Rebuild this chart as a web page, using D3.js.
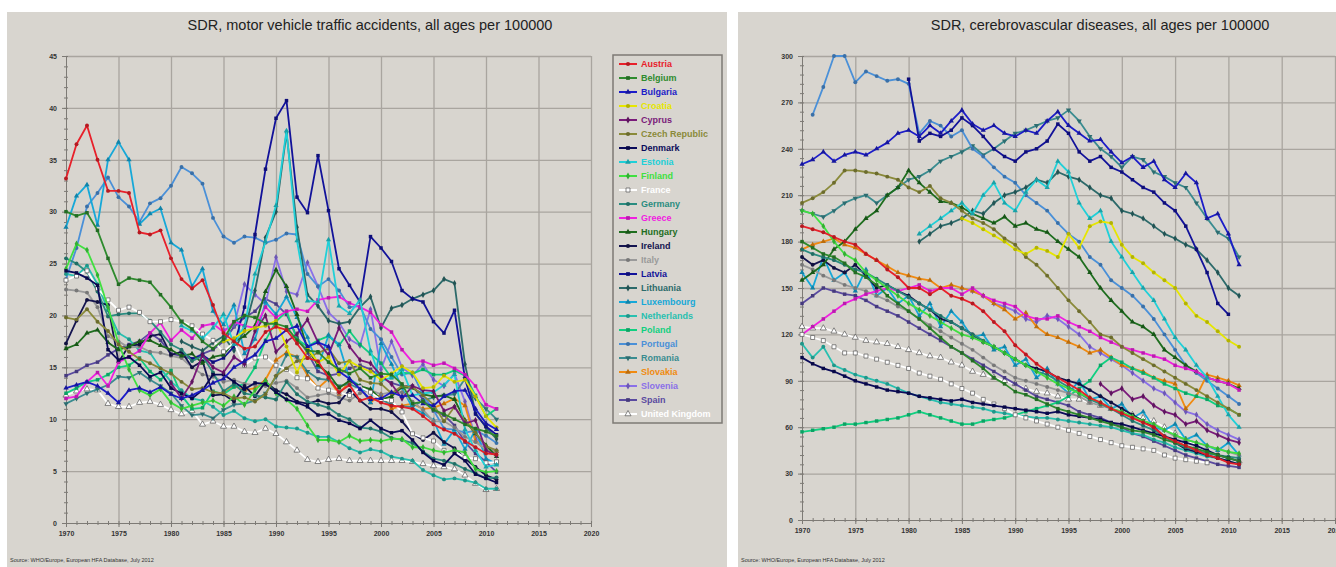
<!DOCTYPE html>
<html>
<head>
<meta charset="utf-8">
<script src="https://cdn.jsdelivr.net/npm/d3@7"></script>
<style>
body { margin: 0; background: #fff; }
svg { display: block; font-family: "Liberation Sans", Arial, sans-serif; }
.grid line { stroke: #a9a59f; stroke-width: 1.3; }
.grid path { display: none; }
.axis path, .axis line { stroke: #7d7a75; }
.axis text { font-size: 7px; font-weight: bold; fill: #333; }
</style>
</head>
<body>
<svg id="chart" width="1336" height="567"></svg>
<script>
const countries = ['Austria', 'Belgium', 'Bulgaria', 'Croatia', 'Cyprus', 'Czech Republic', 'Denmark',
  'Estonia', 'Finland', 'France', 'Germany', 'Greece', 'Hungary', 'Ireland', 'Italy', 'Latvia',
  'Lithuania', 'Luxembourg', 'Netherlands', 'Poland', 'Portugal', 'Romania', 'Slovakia', 'Slovenia',
  'Spain', 'United Kingdom']

const colors = ['#e8202a', '#2e8b2e', '#1c1cc8', '#e6e600', '#7a1a7a', '#8a8a3a', '#0a0a5a',
  '#20d0d8', '#40e040', '#ffffff', '#2a8c80', '#f020e0', '#1e6e1e', '#141450', '#9a9a9a', '#12129a',
  '#2c6a6a', '#16a8d8', '#28c0b0', '#10d080', '#4a90d8', '#3a8c90', '#f08a10', '#8a70e8',
  '#5a4aa0', '#ffffff']

const markers = ['circle', 'square', 'triangle', 'circle', 'diamond', 'circle', 'square',
  'triangle', 'diamond', 'square', 'circle', 'square', 'triangle', 'circle', 'circle', 'square',
  'diamond', 'triangle', 'circle', 'square', 'circle', 'down', 'triangle', 'diamond', 'square', 'triangle']

const hollow = ['France', 'United Kingdom']

const xTicks = [1970, 1975, 1980, 1985, 1990, 1995, 2000, 2005, 2010, 2015, 2020]

// motor vehicle traffic accidents, first year of each series
const trafficStart = [1970, 1970, 1970, 1985, 1980, 1970, 1970, 1981, 1970, 1970, 1970, 1970, 1970,
  1970, 1970, 1981, 1981, 1970, 1970, 1970, 1970, 1970, 1985, 1985, 1970, 1970]

const traffic = [
  [33.2,36.5,38.3,35.0,32.0,32.0,31.8,28.0,27.8,28.2, 25.5,23.5,22.6,23.4,21.0,18.3,17.5,16.8,17.0,18.4, 18.9,18.6,17.3,15.9,15.6,14.0,12.6,13.3,11.8,12.1, 11.6,11.3,11.2,11.0,10.3,9.5,9.0,8.6,7.9,7.3, 6.7,6.6],
  [30.0,29.6,29.9,28.2,25.5,23.0,23.6,23.4,23.2,22.0, 20.8,19.4,18.7,17.5,16.8,17.7,19.4,20.0,19.8,19.2, 19.2,18.9,17.6,16.6,16.5,15.5,14.8,14.4,14.9,14.0, 14.4,14.3,13.4,11.5,11.7,10.9,10.5,10.0,9.5,9.1, 8.8,8.4],
  [13.0,13.3,13.6,13.2,12.5,11.6,12.8,13.0,12.6,13.1, 12.4,12.0,12.3,12.8,13.5,13.9,15.0,15.6,16.2,17.5, 17.8,18.6,19.0,17.0,17.4,17.0,14.6,13.9,12.9,11.9, 12.0,12.6,12.2,12.3,11.5,11.3,12.2,12.7,12.8,11.0, 9.6,9.0],
  [17.5,17.8,18.5,18.8,19.0, 19.5,17.0,14.5,16.8,15.5,16.0,14.3,15.6,15.0,14.6, 13.8,14.4,15.1,14.5,13.0,13.1,14.2,13.6,13.8,12.2, 10.3,9.2],
  [13.5,12.0,13.6,16.2,15.0,14.5,16.0,15.3,18.5,20.0, 16.5,17.5,18.2,19.6,17.4,16.2,18.8,17.0,15.7,15.4, 14.2,13.4,12.0,13.2,12.8,12.7,10.8,11.2,9.6,9.9, 7.0,6.5],
  [19.8,19.6,20.6,19.4,18.5,17.2,16.5,15.8,15.4,14.9, 14.4,13.6,12.9,13.0,12.6,12.5,12.0,12.1,11.7,12.4, 14.2,14.9,15.6,15.9,16.4,16.8,15.4,15.6,13.8,13.5, 13.4,12.5,13.2,13.1,12.3,11.4,9.8,11.2,9.8,8.7, 7.4,7.0],
  [24.3,24.1,23.6,22.9,16.7,15.7,16.0,15.2,14.1,14.5, 13.0,12.5,12.0,12.8,14.3,14.3,13.6,12.9,13.5,13.4, 12.6,11.9,11.6,11.2,10.4,10.5,9.9,9.6,9.1,9.9, 9.1,8.7,8.9,8.0,6.8,6.0,5.6,6.7,6.0,4.7, 4.3,3.9],
  [19.0,18.5,17.8,18.8,20.1,17.2,19.0,24.0,27.1, 30.6,37.8,27.2,21.4,21.3,27.3,20.9,20.2,21.5,16.6, 13.7,14.0,14.8,12.3,12.5,12.6,13.3,14.3,9.0,7.0, 5.4,5.6],
  [24.5,26.9,26.3,23.9,20.8,17.3,14.8,12.8,12.3,12.9, 11.6,11.0,11.3,11.6,11.8,11.3,12.2,11.4,12.8,13.7, 12.5,11.9,11.0,9.4,8.0,8.0,7.8,8.4,7.9,8.0, 7.9,8.1,8.1,7.3,7.3,7.0,6.8,7.0,6.8,5.2, 4.9,5.0],
  [23.4,23.8,24.3,22.6,21.5,20.5,20.8,20.3,19.4,19.4, 19.6,19.4,19.0,18.2,17.6,16.5,17.4,15.2,15.9,16.0, 15.2,14.8,14.0,13.9,13.0,12.8,12.6,12.3,13.1,12.6, 11.9,11.8,10.7,8.6,8.2,7.9,7.0,6.9,6.3,6.2, 5.8,5.9],
  [25.5,25.0,24.2,22.3,19.9,20.1,20.2,20.2,19.5,18.4, 17.2,16.7,15.6,16.1,14.5,12.7,13.4,12.5,12.3,12.1, 11.9,13.6,12.4,11.7,11.4,11.1,10.4,10.0,9.2,9.1, 8.8,8.2,8.0,7.7,6.9,6.2,6.0,5.7,5.2,4.8, 4.3,4.4],
  [12.0,12.2,13.6,14.5,13.2,15.5,16.0,16.6,18.3,19.3, 17.6,18.6,17.8,19.0,19.2,18.4,19.4,19.0,18.8,20.8, 19.8,20.4,20.6,20.4,21.5,21.7,21.8,21.2,20.8,20.3, 19.1,18.4,16.7,15.5,15.6,15.2,15.4,14.9,14.3,13.2, 11.4,11.0],
  [16.8,17.2,18.3,18.6,17.4,16.7,17.0,17.5,17.6,17.1, 16.7,16.1,16.3,15.4,16.0,16.2,17.5,18.0,19.0,22.3, 24.4,22.8,20.1,16.8,15.2,14.4,13.0,13.7,13.2,12.9, 11.9,12.2,13.1,13.0,12.4,12.2,12.3,11.9,9.9,8.6, 7.5,6.4],
  [17.3,19.5,21.5,21.3,21.0,15.5,17.1,17.2,18.0,18.2, 16.2,16.5,15.0,15.6,12.3,12.4,11.7,13.2,12.2,13.6, 12.8,12.4,11.7,11.5,11.8,11.5,11.6,12.8,11.8,11.0, 11.0,10.7,9.8,8.6,8.0,8.7,7.8,7.2,6.2,5.4, 4.6,4.2],
  [22.5,22.4,22.2,20.8,18.0,17.5,16.9,17.0,16.5,16.4, 16.1,15.9,15.0,14.3,14.1,13.6,13.8,13.4,13.3,13.2, 13.5,13.7,13.0,12.1,12.3,12.5,12.1,11.8,12.5,12.8, 12.4,12.6,12.6,11.7,10.9,9.8,9.8,9.2,8.3,7.8, 7.1,6.9],
  [16.5,15.8,16.2,15.5,15.9,17.0,20.8,27.8,34.1, 39.0,40.7,31.4,29.9,35.4,30.1,24.5,22.9,21.3,27.6, 26.5,25.2,22.4,21.6,21.3,19.4,18.3,20.5,13.9,10.5, 9.3,8.5],
  [17.5,17.0,16.6,17.4,18.0,16.6,18.6,22.4,27.5, 30.0,37.6,28.5,22.0,20.9,19.5,19.2,19.4,20.8,21.8, 18.8,20.7,21.0,21.6,22.0,22.4,23.5,23.1,15.3,10.6, 9.2,8.1],
  [28.5,31.5,32.6,28.7,35.0,36.7,35.0,28.8,29.8,30.3, 27.0,26.3,22.8,24.5,20.4,19.1,21.0,16.3,17.7,21.3, 20.1,21.8,19.8,17.9,15.0,18.1,17.2,13.9,13.2,11.6, 17.3,15.3,13.0,11.1,10.6,9.9,7.6,9.0,7.1,9.0, 6.2,5.7],
  [24.0,23.8,24.8,23.0,20.5,18.3,17.7,16.6,16.4,14.9, 13.6,12.8,12.0,11.8,11.2,10.4,10.8,10.1,9.8,10.0, 9.3,9.2,9.1,8.7,8.3,8.3,7.8,7.2,6.8,7.1, 6.9,6.4,6.2,6.0,5.1,4.6,4.2,4.3,4.1,3.9, 3.3,3.3],
  [12.5,13.0,13.6,13.8,14.3,15.0,15.2,15.9,14.6,13.8, 14.7,12.3,11.0,11.1,12.7,12.4,13.1,13.4,15.0,17.6, 19.4,20.4,17.7,17.0,17.6,18.0,17.1,18.5,17.2,16.3, 15.4,14.0,14.5,14.4,14.8,14.3,14.3,14.7,14.2,12.3, 10.3,11.0],
  [23.5,26.5,30.5,31.8,33.3,31.4,30.5,29.0,30.8,31.3, 32.5,34.3,33.7,32.7,29.4,27.6,27.0,27.6,27.5,27.0, 27.3,27.9,27.8,24.0,22.8,23.5,22.4,20.8,20.9,18.7, 17.7,16.0,14.3,14.5,12.3,10.9,9.1,9.0,8.7,8.9, 8.4,7.7],
  [11.5,12.0,12.5,12.9,13.3,14.1,14.0,14.5,13.8,13.2, 12.5,11.3,10.4,10.5,10.1,10.9,11.4,11.5,11.8,12.5, 14.1,16.2,16.0,14.6,13.9,13.8,13.2,13.4,12.9,12.7, 11.9,11.4,11.2,11.2,11.8,12.1,12.3,12.4,13.9,12.0, 11.0,10.0],
  [12.5,13.2,12.8,13.0,13.8, 15.7,16.4,16.0,14.2,13.0,13.9,12.4,13.7,13.1,11.6, 12.4,11.0,11.3,11.5,11.0,11.1,11.5,12.0,11.3,7.9, 7.0,6.9],
  [18.6,19.0,23.0,22.0,21.1, 25.6,22.3,22.0,25.1,22.8,20.3,19.3,17.7,17.1,20.6, 14.8,17.5,15.0,14.2,15.3,13.8,13.2,14.4,11.7,8.2, 7.3,7.0],
  [14.2,14.6,15.2,15.5,16.2,16.8,17.2,17.5,18.3,17.6, 16.3,16.1,15.8,16.3,16.7,17.5,18.9,19.8,20.4,21.6, 21.1,20.1,17.9,16.4,14.6,14.2,14.4,14.9,15.2,14.8, 14.1,13.5,13.2,13.2,11.9,10.8,10.4,9.4,7.8,6.7, 5.9,4.9],
  [12.3,12.7,12.9,12.8,11.5,11.2,11.2,11.6,11.7,11.4, 10.9,10.5,10.8,9.5,9.8,9.3,9.3,8.8,8.7,9.1, 8.6,7.8,7.0,6.1,5.9,6.1,6.2,6.0,6.0,6.0, 6.0,6.0,6.0,5.9,5.7,5.5,5.4,5.2,4.6,3.8, 3.2,3.3]
]

// cerebrovascular diseases, first year of each series
const strokeStart = [1970, 1970, 1970, 1985, 1998, 1970, 1970, 1981, 1970, 1970, 1970, 1970, 1970,
  1970, 1970, 1980, 1981, 1970, 1970, 1970, 1971, 1970, 1970, 1985, 1970, 1970]

const stroke = [
  [190,188,186,183,180,178,172,168,162,157, 150,150,146,150,145,143,140,135,128,122, 113,107,101,96,92,88,84,79,76,72, 69,66,63,60,54,51,48,45,42,40, 37,36],
  [180,176,172,170,166,160,157,152,145,140, 135,130,124,118,112,108,103,98,92,88, 83,81,78,75,72,70,68,66,64,62, 60,58,57,55,52,50,48,46,44,42, 40,38],
  [230,233,238,232,236,238,236,240,244,250, 252,248,255,250,258,265,256,252,255,250, 248,252,250,258,264,255,250,245,246,238, 231,235,228,232,220,215,224,218,195,198, 185,165],
  [195,192,188,184,180, 175,172,176,174,170,185,176,190,193,192, 178,170,166,160,155,150,140,132,128,122, 116,112],
  [88,82,85,78,80,74,70,68,62,64,58,55,52,50],
  [205,208,212,218,226,226,225,224,222,220, 215,212,216,208,205,200,195,192,188,182, 178,170,165,158,150,142,135,128,120,118, 112,108,104,100,96,92,88,84,80,76, 72,68],
  [105,101,98,96,93,90,88,86,84,83, 82,80,79,78,77,78,76,75,74,73, 72,71,70,69,70,68,67,66,65,63, 62,60,58,56,54,52,50,48,45,42, 40,38],
  [185,190,195,200,205,198,210,218,205, 200,212,220,215,232,225,205,195,200,180, 170,160,150,142,130,118,110,100,92,80, 68,60],
  [200,198,190,180,172,168,160,155,150,145, 140,136,132,128,124,120,118,115,112,108, 104,100,96,92,88,85,82,79,76,72, 70,67,64,62,58,55,52,50,48,46, 44,43],
  [120,118,116,112,108,108,106,104,102,100, 98,95,93,91,88,85,82,78,75,72, 68,66,64,62,60,58,56,54,52,50, 48,47,46,45,42,40,39,38,37],
  [175,172,170,168,165,162,160,156,152,148, 144,140,136,132,128,124,120,116,112,108, 104,100,96,94,90,86,82,78,75,72, 68,64,61,58,54,50,47,45,43,42, 41,40],
  [120,125,130,135,140,143,146,148,150,148, 150,152,148,150,150,146,150,145,142,140, 138,132,130,130,132,128,125,122,118,115, 112,110,108,106,104,100,98,96,92,90, 88,84],
  [155,160,165,175,180,188,195,200,210,215, 226,218,212,206,205,202,198,195,192,196, 190,192,188,186,180,175,170,160,150,142, 135,128,125,120,110,105,100,96,92,90, 88,85],
  [170,165,168,163,160,165,158,150,152,148, 145,140,136,130,128,124,120,115,112,108, 104,100,98,96,92,90,88,84,80,76, 72,68,64,60,54,50,46,44,42,40, 38,36],
  [165,162,158,155,152,150,148,145,142,138, 135,130,126,122,118,114,110,105,100,96, 92,90,88,86,84,82,80,76,74,72, 70,66,64,62,58,54,52,50,48,46, 44,42],
  [285,245,250,248,252,260,255,248,240,235, 232,238,240,245,256,250,238,232,235,228, 225,220,215,212,205,200,190,175,160,140, 133],
  [180,185,190,192,195,200,198,205,210, 212,215,220,218,225,222,220,215,210,208, 200,198,195,190,185,182,178,175,168,160, 150,145],
  [160,150,170,155,160,148,162,145,150,140, 145,132,140,125,135,128,118,120,110,112, 100,104,92,98,88,82,90,78,80,72, 75,66,70,60,58,62,52,55,48,45, 50,42],
  [114,105,112,100,97,94,92,90,88,85, 82,80,78,76,75,74,73,72,70,69, 68,67,66,66,65,64,63,62,61,60, 58,56,55,52,50,47,45,43,41,40, 38,36],
  [57,58,59,60,62,62,63,64,65,66, 68,70,68,66,64,62,62,64,65,66, 68,70,72,74,76,80,85,90,100,105, 102,98,95,92,88,85,82,80,78,74, 72,68],
  [262,280,300,300,283,290,287,284,285, 282,250,258,255,248,252,240,235,228,222, 218,210,205,200,192,185,180,170,165,155, 150,145,138,130,120,110,100,95,90,85, 80,75],
  [200,198,196,200,205,208,210,205,210,215, 220,222,226,232,235,238,242,236,240,245, 250,252,255,258,260,265,258,248,240,235, 228,235,233,225,222,218,215,205,195,186, 182,170],
  [175,178,180,182,178,176,172,168,164,160, 158,156,155,150,152,150,148,145,140,136, 130,134,125,120,118,115,112,108,110,105, 100,98,96,92,90,88,72,80,94,92, 90,87],
  [150,148,145,140,138, 135,130,128,132,130,125,120,112,108,104, 100,95,90,85,82,76,70,68,62,58, 55,52],
  [140,145,150,148,146,145,142,138,135,132, 128,124,120,116,112,108,104,100,96,92, 88,84,80,78,76,74,70,68,66,63, 60,56,54,51,48,45,42,40,38,36, 35,34],
  [125,124,124,122,120,118,116,115,114,112, 110,108,106,105,102,100,96,94,92,90, 88,85,83,82,80,78,78,76,74,72, 70,68,66,64,60,56,52,48,45,42, 40,38]
]

const svg = d3.select('#chart')

const symbolOf = name => {
  if (name === 'square') return d3.symbolSquare
  if (name === 'diamond') return d3.symbolDiamond
  if (name === 'triangle' || name === 'down') return d3.symbolTriangle
  return d3.symbolCircle
}

function toSeries(values, starts) {
  return countries.map((c, i) => ({
    name: c, color: colors[i], marker: markers[i],
    points: values[i].map((v, j) => ({ year: starts[i] + j, v: v }))
  }))
}

function drawPanel(p) {

  const g = svg.append('g')

  g.append('rect')
    .attr('x', p.bg[0]).attr('y', 12)
    .attr('width', p.bg[1]).attr('height', 555)
    .attr('fill', '#d8d5cf')

  g.append('text')
    .attr('x', p.titleX).attr('y', 30)
    .attr('text-anchor', 'middle')
    .style('font-size', '14.5px')
    .style('fill', '#222')
    .text(p.title)

  const x = d3.scaleLinear().domain([1970, 2020]).range(p.xr)
  const y = d3.scaleLinear().domain([0, p.ymax]).range(p.yr)

  // grid
  g.append('g').attr('class', 'grid')
    .attr('transform', `translate(0,${p.yr[1]})`)
    .call(d3.axisBottom(x).tickValues(xTicks.slice(1)).tickSize(p.yr[0] - p.yr[1]).tickFormat(''))

  g.append('g').attr('class', 'grid')
    .attr('transform', `translate(${p.xr[0]},0)`)
    .call(d3.axisLeft(y).tickValues(p.yTicks.slice(1)).tickSize(-(p.xr[1] - p.xr[0])).tickFormat(''))

  // minor ticks
  const yMinor = g.append('g').attr('class', 'axis')
    .attr('transform', `translate(${p.xr[0]},0)`)
    .call(d3.axisLeft(y).tickValues(d3.range(0, p.ymax + 0.001, p.yMinor)).tickSize(2).tickFormat(''))
  yMinor.selectAll('line').attr('x1', 2)

  const xMinor = g.append('g').attr('class', 'axis')
    .attr('transform', `translate(0,${p.yr[0]})`)
    .call(d3.axisBottom(x).tickValues(d3.range(1970, 2021, 1)).tickSize(2).tickFormat(''))
  xMinor.selectAll('line').attr('y1', -2)

  // major axes
  g.append('g').attr('class', 'axis')
    .attr('transform', `translate(${p.xr[0]},0)`)
    .call(d3.axisLeft(y).tickValues(p.yTicks).tickSize(4).tickPadding(5))

  g.append('g').attr('class', 'axis')
    .attr('transform', `translate(0,${p.yr[0]})`)
    .call(d3.axisBottom(x).tickValues(xTicks).tickFormat(d3.format('d')).tickSize(4).tickPadding(4))

  const line = d3.line()
    .x(d => x(d.year))
    .y(d => y(d.v))

  const series = toSeries(p.values, p.starts).slice().reverse()

  const s = g.selectAll('.series')
    .data(series)
    .enter()
    .append('g')
    .attr('class', 'series')

  s.append('path')
    .attr('d', d => line(d.points))
    .attr('fill', 'none')
    .attr('stroke', d => d.color)
    .attr('stroke-width', 1.8)
    .attr('stroke-linejoin', 'round')

  s.each(function (d) {
    const isHollow = hollow.includes(d.name)
    d3.select(this).selectAll('path.pt')
      .data(d.points)
      .enter()
      .append('path')
      .attr('class', 'pt')
      .attr('d', d3.symbol().type(symbolOf(d.marker)).size(isHollow ? 16 : 12))
      .attr('transform', q => `translate(${x(q.year)},${y(q.v)})` + (d.marker === 'down' ? ' rotate(180)' : ''))
      .attr('fill', isHollow ? '#ffffff' : d3.color(d.color).darker(0.7))
      .attr('stroke', isHollow ? '#555' : 'none')
      .attr('stroke-width', 0.7)
  })

  g.append('text')
    .attr('x', p.bg[0] + 3).attr('y', 562)
    .style('font-size', '5.5px')
    .style('fill', '#333')
    .text('Source: WHO/Europe, European HFA Database, July 2012')

  return g
}

const left = drawPanel({
  bg: [7, 720], titleX: 370,
  title: 'SDR, motor vehicle traffic accidents, all ages per 100000',
  xr: [66, 591], yr: [523, 56], ymax: 45, yMinor: 1,
  yTicks: [0, 5, 10, 15, 20, 25, 30, 35, 40, 45],
  values: traffic, starts: trafficStart
})

drawPanel({
  bg: [738, 620], titleX: 1100,
  title: 'SDR, cerebrovascular diseases, all ages per 100000',
  xr: [802, 1335], yr: [520, 56], ymax: 300, yMinor: 6,
  yTicks: [0, 30, 60, 90, 120, 150, 180, 210, 240, 270, 300],
  values: stroke, starts: strokeStart
})

// legend for the left panel
const legend = left.append('g')

legend.append('rect')
  .attr('x', 613).attr('y', 55)
  .attr('width', 109).attr('height', 368)
  .attr('fill', '#d8d5cf')
  .attr('stroke', '#7d7a75')
  .attr('stroke-width', 1.5)

countries.forEach((c, i) => {
  const ly = 64 + i * 14
  const isHollow = hollow.includes(c)
  const item = legend.append('g')
  item.append('line')
    .attr('x1', 619).attr('x2', 637)
    .attr('y1', ly).attr('y2', ly)
    .attr('stroke', colors[i]).attr('stroke-width', 2)
  item.append('path')
    .attr('d', d3.symbol().type(symbolOf(markers[i])).size(isHollow ? 16 : 14))
    .attr('transform', `translate(628,${ly})` + (markers[i] === 'down' ? ' rotate(180)' : ''))
    .attr('fill', isHollow ? '#ffffff' : d3.color(colors[i]).darker(0.7))
    .attr('stroke', isHollow ? '#555' : 'none')
    .attr('stroke-width', 0.7)
  item.append('text')
    .attr('x', 641).attr('y', ly + 3)
    .style('font-size', '9px')
    .style('font-weight', 'bold')
    .style('fill', colors[i])
    .text(c)
})
</script>
</body>
</html>
